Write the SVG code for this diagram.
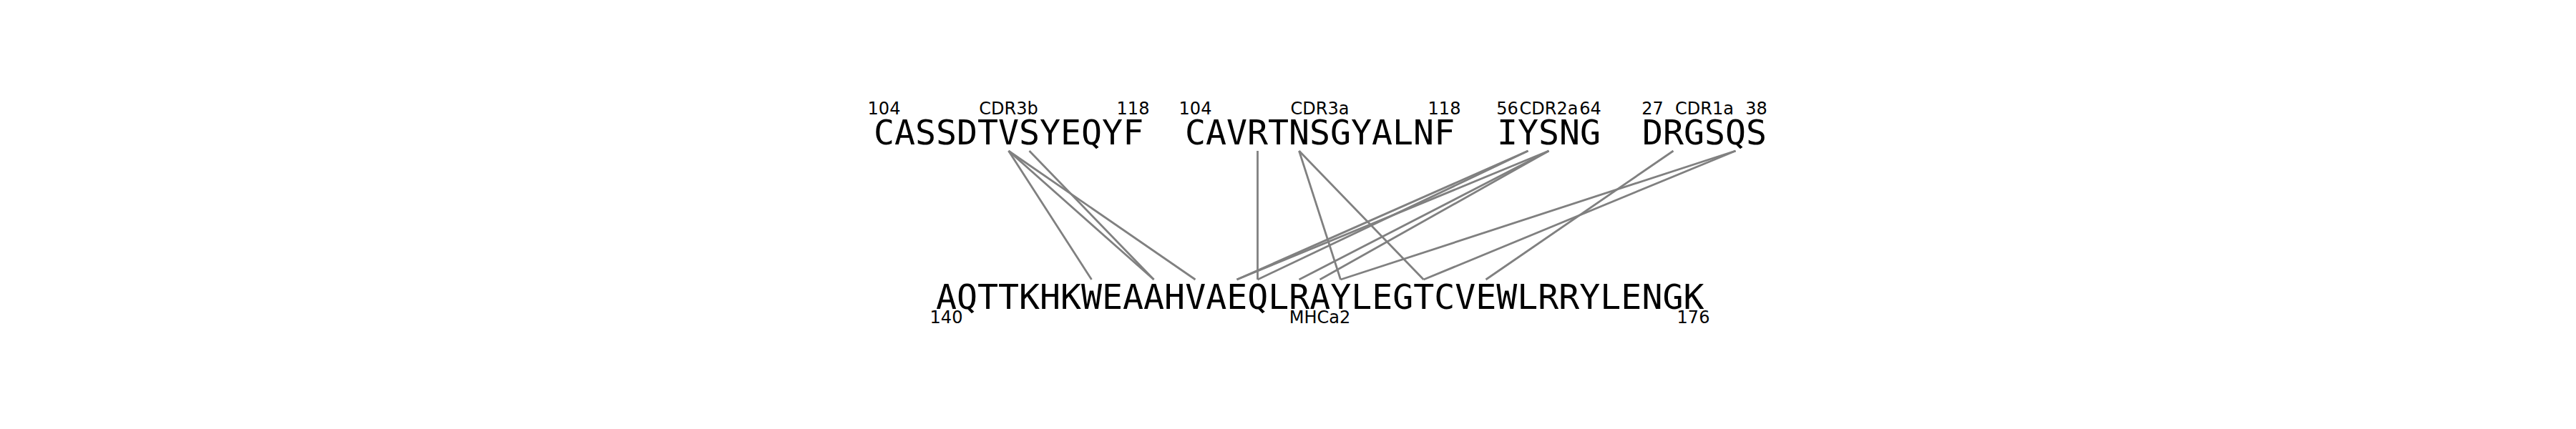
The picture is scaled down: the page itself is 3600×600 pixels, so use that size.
<svg xmlns="http://www.w3.org/2000/svg" width="3600" height="600" viewBox="0 0 3600 600">
<style>
.seq{font-family:"DejaVu Sans Mono",monospace;font-size:48.2px;fill:#000}
.lab{font-family:"DejaVu Sans",sans-serif;font-size:24px;fill:#000;text-anchor:middle}
.con line{stroke:#808080;stroke-width:2.8;stroke-linecap:butt}
</style>
<rect width="3600" height="600" fill="#fff"/>
<g id="connectors" class="con">
<line x1="1409.5" y1="211" x2="1525.5" y2="391"/>
<line x1="1409.5" y1="211" x2="1612.5" y2="391"/>
<line x1="1409.5" y1="211" x2="1670.5" y2="391"/>
<line x1="1438.5" y1="211" x2="1612.5" y2="391"/>
<line x1="1757.5" y1="211" x2="1757.5" y2="391"/>
<line x1="1815.5" y1="211" x2="1873.5" y2="391"/>
<line x1="1815.5" y1="211" x2="1989.5" y2="391"/>
<line x1="2135.5" y1="211" x2="1728.5" y2="391"/>
<line x1="2135.5" y1="211" x2="1757.5" y2="391"/>
<line x1="2164.5" y1="211" x2="1728.5" y2="391"/>
<line x1="2164.5" y1="211" x2="1815.5" y2="391"/>
<line x1="2164.5" y1="211" x2="1844.5" y2="391"/>
<line x1="2425.5" y1="211" x2="1873.5" y2="391"/>
<line x1="2425.5" y1="211" x2="1989.5" y2="391"/>
<line x1="2338.5" y1="211" x2="2076.5" y2="391"/>
</g>
<g id="cdr3b">
<text class="seq" x="1221" y="202">CASSDTVSYEQYF</text>
<text class="lab" x="1235.5" y="160">104</text>
<text class="lab" x="1409.5" y="160">CDR3b</text>
<text class="lab" x="1583.5" y="160">118</text>
</g>
<g id="cdr3a">
<text class="seq" x="1656" y="202">CAVRTNSGYALNF</text>
<text class="lab" x="1670.5" y="160">104</text>
<text class="lab" x="1844.5" y="160">CDR3a</text>
<text class="lab" x="2018.5" y="160">118</text>
</g>
<g id="cdr2a">
<text class="seq" x="2092" y="202">IYSNG</text>
<text class="lab" x="2106.5" y="160">56</text>
<text class="lab" x="2164.5" y="160">CDR2a</text>
<text class="lab" x="2222.5" y="160">64</text>
</g>
<g id="cdr1a">
<text class="seq" x="2295" y="202">DRGSQS</text>
<text class="lab" x="2309.5" y="160">27</text>
<text class="lab" x="2382" y="160">CDR1a</text>
<text class="lab" x="2454.5" y="160">38</text>
</g>
<g id="mhca2">
<text class="seq" x="1308" y="432">AQTTKHKWEAAHVAEQLRAYLEGTCVEWLRRYLENGK</text>
<text class="lab" x="1322.5" y="452">140</text>
<text class="lab" x="1844.5" y="452">MHCa2</text>
<text class="lab" x="2366.5" y="452">176</text>
</g>
</svg>
